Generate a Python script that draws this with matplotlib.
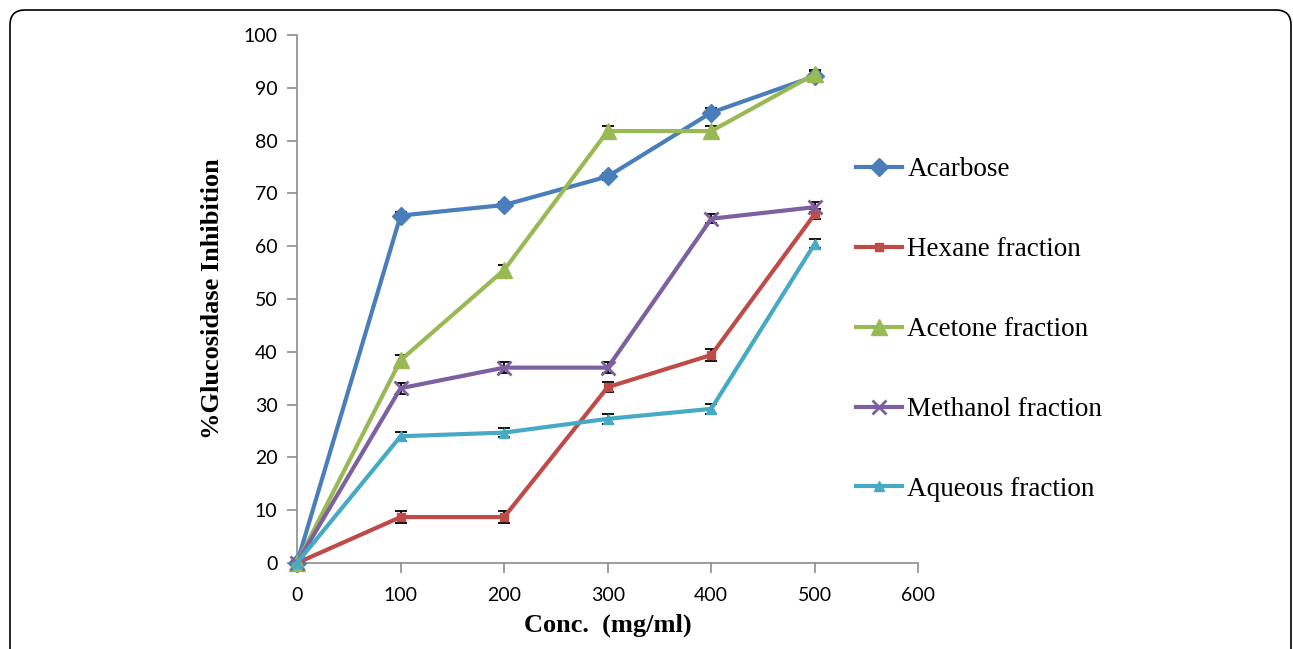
import matplotlib
matplotlib.use("Agg")
import matplotlib.pyplot as plt
from matplotlib.patches import FancyBboxPatch

conc = [0, 100, 200, 300, 400, 500]

acarbose = [0, 65.8, 67.8, 73.2, 85.3, 92.2]
hexane = [0, 8.7, 8.7, 33.3, 39.4, 66.1]
acetone = [0, 38.4, 55.5, 81.8, 81.8, 92.6]
methanol = [0, 33.1, 37.0, 37.0, 65.2, 67.4]
aqueous = [0, 24.0, 24.7, 27.3, 29.2, 60.5]

acarbose_err = [0, 0.6, 0.6, 0.6, 0.8, 1.0]
hexane_err = [0, 1.1, 1.1, 1.0, 1.1, 1.0]
acetone_err = [0, 1.0, 1.0, 1.0, 1.0, 0.8]
methanol_err = [0, 1.0, 1.1, 1.0, 0.9, 0.9]
aqueous_err = [0, 0.9, 0.9, 0.9, 0.9, 0.9]

labels = ["Acarbose", "Hexane fraction", "Acetone fraction", "Methanol fraction", "Aqueous fraction"]
series = [acarbose, hexane, acetone, methanol, aqueous]
errors = [acarbose_err, hexane_err, acetone_err, methanol_err, aqueous_err]

colors = ["#4a7ebb", "#be4b48", "#98b954", "#7d60a0", "#46aac5"]
markers = ["D", "s", "^", "x", "^"]
msizes = [9, 6, 11, 10, 7]

fig = plt.figure(figsize=(12.93, 6.49), dpi=100)
ax = fig.add_axes([0.2297, 0.1325, 0.4806, 0.8136])

for y, e, lab, c, m, ms in zip(series, errors, labels, colors, markers, msizes):
    ax.errorbar(conc, y, yerr=e, fmt="none", ecolor="black", elinewidth=1.3,
                capsize=4, capthick=1.3, zorder=2, clip_on=False)
    ax.plot(conc, y, color=c, lw=3.0, marker=m, ms=ms, mew=2 if m == "x" else 1,
            mec=c, mfc=c, label=lab, zorder=3, clip_on=False)

ax.set_xlim(0, 600)
ax.set_ylim(0, 100)
ax.set_xticks(range(0, 601, 100))
ax.set_yticks(range(0, 101, 10))
for s in ["top", "right"]:
    ax.spines[s].set_visible(False)
for s in ["left", "bottom"]:
    ax.spines[s].set_color("#8c8c8c")
    ax.spines[s].set_linewidth(1.2)
ax.tick_params(direction="out", length=7, width=1.2, color="#8c8c8c", labelsize=14, pad=7)
ax.tick_params(axis="x", pad=10)
for t in ax.get_xticklabels() + ax.get_yticklabels():
    t.set_fontfamily("Lato")

ax.set_xlabel("Conc.  (mg/ml)", fontsize=19, fontweight="bold", family="Liberation Serif", labelpad=7)
ax.set_ylabel("%Glucosidase Inhibition", fontsize=19, fontweight="bold", family="Liberation Serif", labelpad=14)

ax.legend(loc="upper left", bbox_to_anchor=(0.662, 0.758), bbox_transform=fig.transFigure,
          frameon=False, prop={"family": "Liberation Serif", "size": 19.5},
          handlelength=1.7, handletextpad=0.2, labelspacing=2.03, borderpad=0, borderaxespad=0)

# rounded frame around the whole figure, open at the bottom edge
border = FancyBboxPatch((0.1, -0.5), 12.81, 6.89, boxstyle="round,pad=0,rounding_size=0.15",
                        transform=fig.dpi_scale_trans, fill=False, ec="black", lw=1.2, clip_on=False)
fig.patches.append(border)

fig.savefig("out.png", dpi=100)
